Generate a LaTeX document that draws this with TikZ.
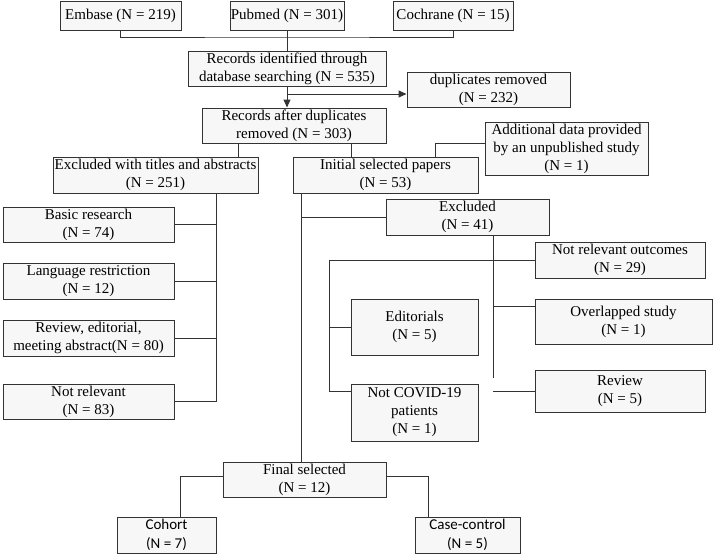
\documentclass[tikz,border=0pt]{standalone}
\usepackage{fontspec}
\setmainfont{Liberation Serif}
\newfontfamily\sansf{Carlito}
\usetikzlibrary{arrows.meta,shadows}
\definecolor{boxfill}{HTML}{F7F7F7}
\definecolor{linec}{HTML}{333333}
\tikzset{
  box/.style={draw=linec, fill=boxfill, line width=1pt, inner sep=0pt, align=center,
    font=\fontsize{15}{18}\selectfont,
    drop shadow={shadow xshift=1.2pt, shadow yshift=-1.2pt, opacity=0.55, fill=black!70}},
  sbox/.style={box, font=\sansf\fontsize{15}{18.5}\selectfont},
  conn/.style={draw=linec, line width=1pt},
  arr/.style={conn, -{Triangle[length=8pt,width=7pt]}}
}
\begin{document}
\begin{tikzpicture}[x=1pt,y=-1pt]
\useasboundingbox (0,0) rectangle (716,557);
% nodes
\node[box, minimum width=121, minimum height=29] (embase) at (120.5,15.5) {Embase (N = 219)};
\node[box, minimum width=114, minimum height=29] (pubmed) at (287,15.5) {Pubmed (N = 301)};
\node[box, minimum width=120, minimum height=29] (cochrane) at (453,15.5) {Cochrane (N = 15)};
\node[box, minimum width=198, minimum height=35] (recid) at (287,68.5) {Records identified through\\database searching (N = 535)};
\node[box, minimum width=163, minimum height=35] (dup) at (488.5,89.5) {duplicates removed\\(N = 232)};
\node[box, minimum width=184, minimum height=35] (recafter) at (294,125.5) {Records after duplicates\\removed (N = 303)};
\node[box, minimum width=205, minimum height=36] (excl1) at (155.5,175) {Excluded with titles and abstracts\\(N = 251)};
\node[box, minimum width=185, minimum height=36] (initial) at (385.5,175) {Initial selected papers\\(N = 53)};
\node[box, minimum width=163, minimum height=53] (addl) at (566.5,148.5) {Additional data provided\\by an unpublished study\\(N = 1)};
\node[box, minimum width=171, minimum height=35] (basic) at (88.5,224.5) {Basic research\\(N = 74)};
\node[box, minimum width=171, minimum height=36] (lang) at (88.5,281) {Language restriction\\(N = 12)};
\node[box, minimum width=171, minimum height=36] (review1) at (88.5,338) {Review, editorial,\\meeting abstract(N = 80)};
\node[box, minimum width=171, minimum height=35] (notrel) at (88.5,401.5) {Not relevant\\(N = 83)};
\node[box, minimum width=163, minimum height=36] (excl41) at (467.5,217) {Excluded\\(N = 41)};
\node[box, minimum width=170, minimum height=36] (nro) at (620,260) {Not relevant outcomes\\(N = 29)};
\node[box, minimum width=177, minimum height=45] (overl) at (623.5,321.5) {Overlapped study\\(N = 1)};
\node[box, minimum width=170, minimum height=42] (review2) at (620,391) {Review\\(N = 5)};
\node[box, minimum width=127, minimum height=56] (edit) at (414.5,327) {Editorials\\(N = 5)};
\node[box, minimum width=127, minimum height=57] (notcovid) at (414.5,412.5) {Not COVID-19\\patients\\(N = 1)};
\node[box, minimum width=163, minimum height=35] (final) at (304.5,479.5) {Final selected\\(N = 12)};
\node[sbox, minimum width=99, minimum height=36] (cohort) at (166.5,535) {Cohort\\(N = 7)};
\node[sbox, minimum width=105, minimum height=36] (casec) at (467.5,535) {Case-control\\(N = 5)};
% helper coordinates
\coordinate (j1) at (287,37);
\coordinate (b1) at (287,94);
\coordinate (c1) at (238,150);
\coordinate (c2) at (351,150);
\coordinate (c3) at (435,143);
\coordinate (v1) at (216,0);
\coordinate (v2) at (301,0);
\coordinate (c4) at (493,306);
\coordinate (c5) at (493,378);
\coordinate (c6) at (493,391);
\coordinate (c8) at (329,391);
\coordinate (c9) at (180,476);
\coordinate (c10) at (428,476);
% connectors
\draw[conn] (embase.south) |- (j1) -| (cochrane.south);
\draw[conn] (pubmed.south) -- (recid.north);
\draw[arr] (recid.south) -- (recid.south |- recafter.north);
\draw[arr] (b1) -- (b1 -| dup.west);
\draw[conn] (recafter.south -| c1) -- (excl1.north -| c1);
\draw[conn] (recafter.south -| c2) -- (initial.north -| c2);
\draw[conn] (addl.west |- c3) -| (initial.north -| c3);
\draw[conn] (excl1.south -| v1) |- (notrel.east);
\draw[conn] (basic.east) -- (basic.east -| v1);
\draw[conn] (lang.east) -- (lang.east -| v1);
\draw[conn] (review1.east) -- (review1.east -| v1);
\draw[conn] (initial.south -| v2) -- (final.north -| v2);
\draw[conn] (excl41.west) -- (excl41.west -| v2);
\draw[conn] (excl41.south -| c5) -- (c5);
\draw[conn] (c4) -- (c4 -| overl.west);
\draw[conn] (c6) -- (c6 -| review2.west);
\draw[conn] (nro.west) -| (c8) -- (c8 -| notcovid.west);
\draw[conn] (edit.west) -- (edit.west -| c8);
\draw[conn] (final.west |- c9) -| (cohort.north -| c9);
\draw[conn] (final.east |- c10) -| (casec.north -| c10);
\end{tikzpicture}
\end{document}
